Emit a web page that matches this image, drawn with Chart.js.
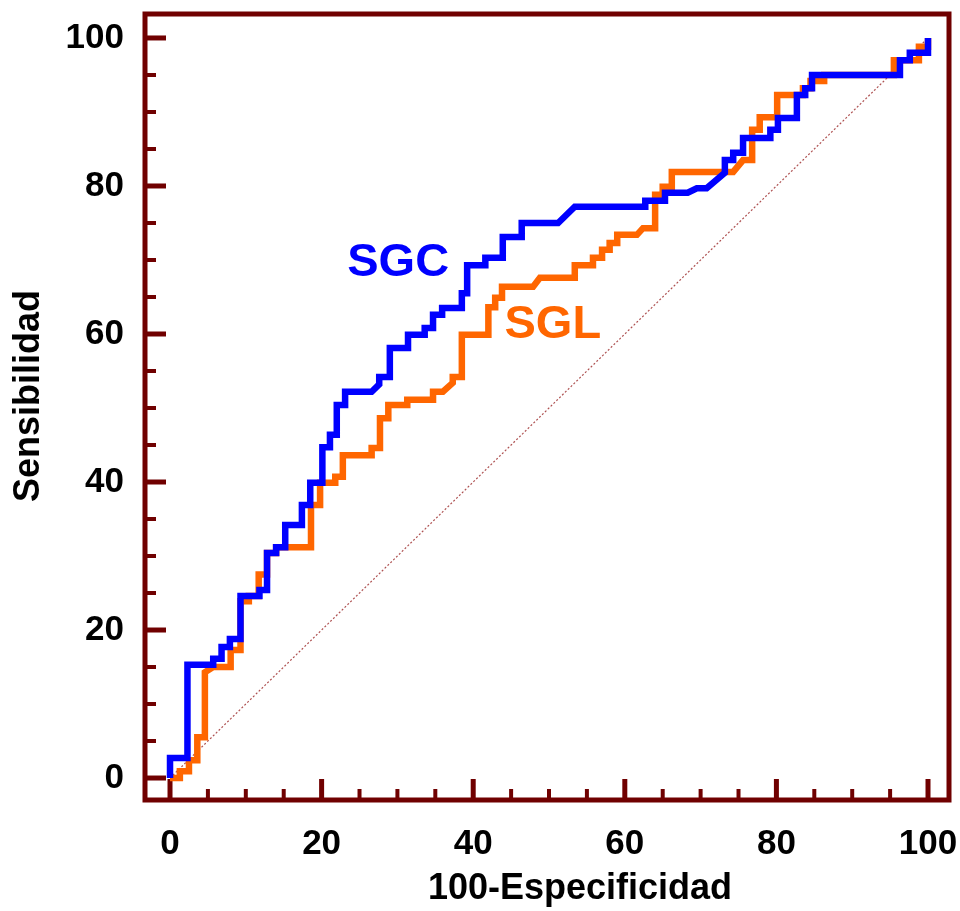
<!DOCTYPE html>
<html>
<head>
<meta charset="utf-8">
<script src="https://cdn.jsdelivr.net/npm/chart.js@4.4.1/dist/chart.umd.min.js"></script>
<style>
  body { margin: 0; background: #fff; }
</style>
</head>
<body>
<canvas id="roc" width="960" height="911"></canvas>
<script>
// curva SGC (azul)
const sgcX = [0, 0, 2.3, 2.3, 5.7, 5.7, 6.8, 6.8, 7.9, 7.9, 9.3, 9.3, 11.8, 11.8, 12.8, 12.8, 14.0, 14.0, 15.2, 15.2,
  17.4, 17.4, 18.5, 18.5, 20.1, 20.1, 21.1, 21.1, 22.0, 22.0, 23.1, 23.1, 26.6, 27.6, 27.6, 29.0, 29.0, 31.4, 31.4,
  33.6, 33.6, 34.7, 34.7, 35.9, 35.9, 38.5, 38.5, 39.2, 39.2, 41.6, 41.6, 43.9, 43.9, 46.4, 46.4, 51.2, 53.4, 62.7,
  62.7, 65.3, 65.3, 68.3, 69.5, 70.8, 73.2, 73.2, 74.3, 74.3, 75.6, 75.6, 79.2, 79.2, 80.2, 80.2, 82.7, 82.7, 83.8,
  83.8, 84.7, 84.7, 96.3, 96.3, 97.6, 97.6, 100, 100];
const sgcY = [0, 2.7, 2.7, 15.3, 15.3, 16.1, 16.1, 17.7, 17.7, 18.8, 18.8, 24.6, 24.6, 25.4, 25.4, 30.4, 30.4, 31.2, 31.2, 34.2,
  34.2, 36.9, 36.9, 39.9, 39.9, 44.7, 44.7, 46.4, 46.4, 50.4, 50.4, 52.2, 52.2, 53.2, 54.2, 54.2, 58.1, 58.1, 59.9,
  59.9, 60.8, 60.8, 62.6, 62.6, 63.5, 63.5, 65.5, 65.5, 69.3, 69.3, 70.3, 70.3, 73.1, 73.1, 75.0, 75.0, 77.2, 77.2,
  78.0, 78.0, 79.1, 79.1, 79.7, 79.7, 81.8, 83.5, 83.5, 84.5, 84.5, 86.5, 86.5, 87.6, 87.6, 89.2, 89.2, 92.3, 92.3,
  93.2, 93.2, 95.0, 95.0, 97.0, 97.0, 98.0, 98.0, 100];

// curva SGL (naranja)
const sglX = [0, 1.3, 1.3, 2.5, 2.5, 3.6, 3.6, 4.6, 4.6, 5.7, 8.0, 8.0, 9.3, 9.3, 10.4, 10.4, 11.7, 11.7, 12.8, 12.8,
  14.0, 14.0, 18.6, 18.6, 19.8, 19.8, 21.8, 21.8, 22.8, 22.8, 26.6, 26.6, 27.7, 27.7, 28.8, 28.8, 31.3, 31.3, 34.7,
  34.7, 36.0, 37.3, 37.3, 38.5, 38.5, 42.0, 42.0, 42.9, 42.9, 43.8, 43.8, 47.9, 48.8, 53.4, 53.4, 55.8, 55.8, 57.0,
  57.0, 58.0, 58.0, 59.0, 59.0, 61.6, 62.4, 64.0, 64.0, 65.0, 65.0, 66.2, 66.2, 73.5, 74.3, 75.6, 76.8, 76.8, 77.8,
  77.8, 80.1, 80.1, 83.5, 83.5, 84.5, 84.5, 86.3, 86.3, 95.5, 95.5, 98.8, 98.8, 100, 100];
const sglY = [0, 0, 0.9, 0.9, 2.4, 2.4, 5.5, 5.5, 14.3, 15.0, 15.0, 17.3, 17.3, 23.9, 23.9, 24.6, 24.6, 27.5, 27.5, 30.4,
  30.4, 31.2, 31.2, 36.9, 36.9, 39.9, 39.9, 40.7, 40.7, 43.6, 43.6, 44.6, 44.6, 48.6, 48.6, 50.4, 50.4, 51.1, 51.1,
  52.2, 52.2, 53.4, 54.2, 54.2, 59.9, 59.9, 63.6, 63.6, 64.9, 64.9, 66.4, 66.4, 67.6, 67.6, 69.3, 69.3, 70.3, 70.3,
  71.4, 71.4, 72.3, 72.3, 73.4, 73.4, 74.3, 74.3, 78.8, 78.8, 79.9, 79.9, 81.9, 81.9, 81.9, 83.5, 83.5, 87.6, 87.6,
  89.3, 89.3, 92.3, 92.3, 93.2, 93.2, 94.2, 94.2, 95.0, 95.0, 97.0, 97.0, 98.8, 98.8, 100];

// linea de referencia
const refX = [0, 100];
const refY = [0, 100];

const tickValues = [0, 20, 40, 60, 80, 100];

const frameColor = '#700000';
const fontFamily = 'Arial, "Liberation Sans", sans-serif';

function pts(xs, ys) {
  return xs.map((x, i) => ({x: x, y: ys[i]}));
}

const frameAndTicks = {
  id: 'frameAndTicks',
  beforeDatasetsDraw(chart) {
    const ctx = chart.ctx;
    const a = chart.chartArea;
    const sx = chart.scales.x, sy = chart.scales.y;
    ctx.save();
    ctx.strokeStyle = frameColor;
    for (let v = 0; v <= 100; v += 5) {
      const major = v % 20 === 0;
      const len = major ? 21 : 11;
      ctx.lineWidth = major ? 5 : 4;
      const px = sx.getPixelForValue(v);
      ctx.beginPath();
      ctx.moveTo(px, a.bottom);
      ctx.lineTo(px, a.bottom - len);
      ctx.stroke();
      const py = sy.getPixelForValue(v);
      ctx.beginPath();
      ctx.moveTo(a.left, py);
      ctx.lineTo(a.left + len, py);
      ctx.stroke();
    }
    ctx.lineWidth = 5;
    ctx.strokeRect(a.left, a.top, a.right - a.left, a.bottom - a.top);
    ctx.restore();
  },
  afterDraw(chart) {
    const ctx = chart.ctx;
    const sx = chart.scales.x, sy = chart.scales.y;
    ctx.save();
    ctx.textAlign = 'center';
    ctx.textBaseline = 'middle';
    ctx.font = 'bold 47px ' + fontFamily;
    ctx.fillStyle = '#0000ff';
    ctx.fillText('SGC', sx.getPixelForValue(30.1), sy.getPixelForValue(69.6));
    ctx.fillStyle = '#ff6600';
    ctx.fillText('SGL', sx.getPixelForValue(50.5), sy.getPixelForValue(61.2));

    ctx.fillStyle = '#000';
    ctx.font = 'bold 36px ' + fontFamily;
    ctx.fillText('100-Especificidad', 580, 889);
    ctx.translate(29, 396);
    ctx.rotate(-Math.PI / 2);
    ctx.fillText('Sensibilidad', 0, 0);
    ctx.restore();
  }
};

new Chart(document.getElementById('roc'), {
  type: 'scatter',
  data: {
    datasets: [
      {
        label: 'SGC',
        data: pts(sgcX, sgcY),
        showLine: true,
        borderColor: '#0000ff',
        borderWidth: 6.5,
        borderJoinStyle: 'miter',
        pointRadius: 0
      },
      {
        label: 'SGL',
        data: pts(sglX, sglY),
        showLine: true,
        borderColor: '#ff6600',
        borderWidth: 6.5,
        borderJoinStyle: 'miter',
        pointRadius: 0
      },
      {
        label: 'ref',
        data: pts(refX, refY),
        showLine: true,
        borderColor: 'rgba(160, 50, 50, 0.85)',
        borderWidth: 1.2,
        borderDash: [2, 2],
        pointRadius: 0
      }
    ]
  },
  options: {
    responsive: false,
    animation: false,
    devicePixelRatio: 1,
    layout: {padding: {top: 14, right: 11, left: 0, bottom: 0}},
    plugins: {
      legend: {display: false},
      tooltip: {enabled: false}
    },
    scales: {
      x: {
        type: 'linear',
        min: -3.3,
        max: 102.77,
        grid: {display: false},
        border: {display: false},
        afterBuildTicks: s => { s.ticks = tickValues.map(v => ({value: v})); },
        afterFit: s => { s.height = 111; s.paddingLeft = 0; s.paddingRight = 0; },
        ticks: {
          color: '#000',
          padding: 15,
          maxRotation: 0,
          font: {family: fontFamily, size: 35, weight: 'bold'}
        }
      },
      y: {
        type: 'linear',
        min: -2.97,
        max: 103.24,
        grid: {display: false},
        border: {display: false},
        afterBuildTicks: s => { s.ticks = tickValues.map(v => ({value: v})); },
        afterFit: s => { s.width = 145; s.paddingTop = 0; s.paddingBottom = 0; },
        ticks: {
          color: '#000',
          padding: 13,
          font: {family: fontFamily, size: 35, weight: 'bold'}
        }
      }
    }
  },
  plugins: [frameAndTicks]
});
</script>
</body>
</html>
